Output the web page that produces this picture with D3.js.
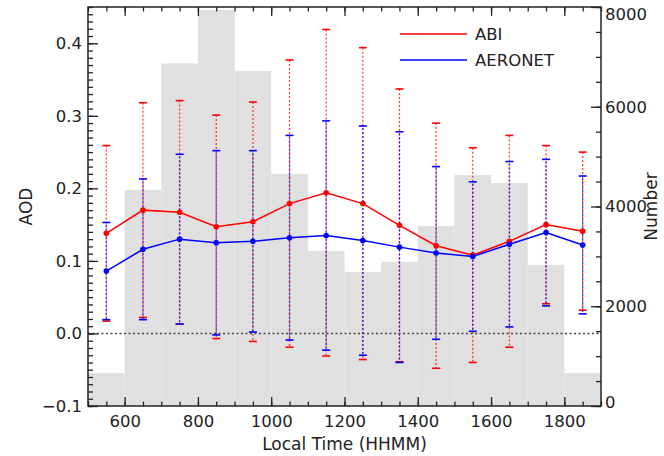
<!DOCTYPE html>
<html>
<head>
<meta charset="utf-8">
<script src="https://cdn.jsdelivr.net/npm/d3@7"></script>
<style>
  html, body { margin: 0; padding: 0; background: #fff; }
  svg text { font-family: "DejaVu Sans", sans-serif; fill: #222; }
</style>
</head>
<body>
<svg id="chart" width="664" height="456"></svg>
<script>
// Hourly bins (local time, HHMM) and their centres
const binStarts = [500, 600, 700, 800, 900, 1000, 1100, 1200, 1300, 1400, 1500, 1600, 1700, 1800];
const binCounts = [660, 4330, 6870, 7940, 6720, 4650, 3110, 2690, 2890, 3610, 4630, 4470, 2830, 660];
const times = [550, 650, 750, 850, 950, 1050, 1150, 1250, 1350, 1450, 1550, 1650, 1750, 1850];

// Mean AOD and standard deviation per bin
const abiMean = [0.138, 0.170, 0.167, 0.147, 0.154, 0.179, 0.194, 0.179, 0.149, 0.121, 0.108, 0.127, 0.150, 0.141];
const abiStd  = [0.121, 0.148, 0.154, 0.154, 0.165, 0.198, 0.225, 0.215, 0.188, 0.169, 0.148, 0.146, 0.109, 0.109];
const aerMean = [0.086, 0.116, 0.130, 0.125, 0.127, 0.132, 0.135, 0.128, 0.119, 0.111, 0.106, 0.123, 0.139, 0.122];
const aerStd  = [0.067, 0.097, 0.117, 0.127, 0.125, 0.141, 0.158, 0.158, 0.159, 0.119, 0.103, 0.114, 0.101, 0.095];

// Axis ticks
const xTicks = [600, 800, 1000, 1200, 1400, 1600, 1800];
const yTicks = [-0.1, 0.0, 0.1, 0.2, 0.3, 0.4];
const nTicks = [0, 2000, 4000, 6000, 8000];
const legendNames = ["ABI", "AERONET"];
const colors = ["#ff0000", "#0000ff"];

const L = 88, R = 601, T = 7, B = 406;
const svg = d3.select("#chart");

const x = d3.scaleLinear().domain([500, 1900]).range([L, R]);
const y = d3.scaleLinear().domain([-0.1, 0.45]).range([B, T]);
const yN = d3.scaleLinear().domain([0, 8000]).range([B, T]);

// Count histogram in the background
svg.append("g").selectAll("rect")
  .data(binStarts.map((s, i) => ({ s, c: binCounts[i] })))
  .join("rect")
  .attr("x", d => x(d.s))
  .attr("width", d => x(d.s + 100) - x(d.s))
  .attr("y", d => yN(d.c))
  .attr("height", d => yN(0) - yN(d.c))
  .attr("fill", "#e0e0e0");

// Zero reference line
svg.append("line")
  .attr("x1", L).attr("x2", R)
  .attr("y1", y(0)).attr("y2", y(0))
  .attr("stroke", "#444").attr("stroke-width", 1.5)
  .attr("stroke-dasharray", "2,2.5");

const series = [
  { mean: abiMean, std: abiStd, color: colors[0], offset: 0 },
  { mean: aerMean, std: aerStd, color: colors[1], offset: 2 }
];

// Error bars (mean ± std) with caps
series.forEach(s => {
  const g = svg.append("g");
  times.forEach((t, i) => {
    const hi = s.mean[i] + s.std[i], lo = s.mean[i] - s.std[i];
    g.append("line")
      .attr("x1", x(t)).attr("x2", x(t))
      .attr("y1", y(hi)).attr("y2", y(lo))
      .attr("stroke", s.color).attr("stroke-width", 1.3)
      .attr("stroke-opacity", 0.75)
      .attr("stroke-dasharray", "2,2")
      .attr("stroke-dashoffset", s.offset);
    [hi, lo].forEach(v => {
      g.append("line")
        .attr("x1", x(t) - 4).attr("x2", x(t) + 4)
        .attr("y1", y(v)).attr("y2", y(v))
        .attr("stroke", s.color).attr("stroke-width", 1.6);
    });
  });
});

// Mean lines with markers
series.forEach(s => {
  const pts = times.map((t, i) => [t, s.mean[i]]);
  svg.append("path")
    .datum(pts)
    .attr("fill", "none")
    .attr("stroke", s.color)
    .attr("stroke-width", 1.5)
    .attr("d", d3.line().x(d => x(d[0])).y(d => y(d[1])));
  svg.append("g").selectAll("circle")
    .data(pts).join("circle")
    .attr("cx", d => x(d[0])).attr("cy", d => y(d[1]))
    .attr("r", 2.8).attr("fill", s.color);
});

// Axes: inward ticks, major and minor
function styleAxis(g) {
  g.select(".domain").remove();
  g.selectAll("line").attr("stroke", "#222").attr("stroke-width", 1.3);
  g.selectAll("text").attr("font-size", 16.5).attr("fill", "#222")
    .style("font-family", "DejaVu Sans, sans-serif");
}

const minorX = d3.range(500, 1901, 50);
const minorY = d3.range(-0.1, 0.4501, 0.01);
const minorN = d3.range(0, 8001, 500);

svg.append("g").attr("transform", `translate(0,${B})`)
  .call(d3.axisBottom(x).tickValues(minorX).tickSize(-4.5).tickFormat(""))
  .call(styleAxis);
svg.append("g").attr("transform", `translate(0,${B})`)
  .call(d3.axisBottom(x).tickValues(xTicks).tickSize(-9).tickPadding(9).tickFormat(d3.format("d")))
  .call(styleAxis);
svg.append("g").attr("transform", `translate(0,${T})`)
  .call(d3.axisTop(x).tickValues(minorX).tickSize(-4.5).tickFormat(""))
  .call(styleAxis);
svg.append("g").attr("transform", `translate(0,${T})`)
  .call(d3.axisTop(x).tickValues(xTicks).tickSize(-9).tickFormat(""))
  .call(styleAxis);

svg.append("g").attr("transform", `translate(${L},0)`)
  .call(d3.axisLeft(y).tickValues(minorY).tickSize(-5).tickFormat(""))
  .call(styleAxis);
svg.append("g").attr("transform", `translate(${L},0)`)
  .call(d3.axisLeft(y).tickValues(yTicks).tickSize(-10).tickPadding(6).tickFormat(d3.format(".1f")))
  .call(styleAxis);

svg.append("g").attr("transform", `translate(${R},0)`)
  .call(d3.axisRight(yN).tickValues(minorN).tickSize(-5).tickFormat(""))
  .call(styleAxis);
const rightAxis = svg.append("g").attr("transform", `translate(${R},0)`)
  .call(d3.axisRight(yN).tickValues(nTicks).tickSize(-10).tickPadding(4).tickFormat(d3.format("d")))
  .call(styleAxis);
// keep the end labels inside the frame height
rightAxis.selectAll(".tick text")
  .attr("dy", d => d === 8000 ? "0.75em" : d === 0 ? "0.1em" : "0.32em");

// Frame
svg.append("rect")
  .attr("x", L).attr("y", T)
  .attr("width", R - L).attr("height", B - T)
  .attr("fill", "none").attr("stroke", "#222").attr("stroke-width", 1.5);

// Axis titles
svg.append("text")
  .attr("x", (L + R) / 2).attr("y", 450)
  .attr("text-anchor", "middle").attr("font-size", 17)
  .text("Local Time (HHMM)");
svg.append("text")
  .attr("transform", `translate(32,${(T + B) / 2}) rotate(-90)`)
  .attr("text-anchor", "middle").attr("font-size", 17)
  .text("AOD");
svg.append("text")
  .attr("transform", `translate(657,${(T + B) / 2}) rotate(-90)`)
  .attr("text-anchor", "middle").attr("font-size", 17)
  .text("Number");

// Legend
const legend = svg.append("g");
legendNames.forEach((name, i) => {
  const ly = 34 + i * 26;
  legend.append("line")
    .attr("x1", 400).attr("x2", 467)
    .attr("y1", ly).attr("y2", ly)
    .attr("stroke", colors[i]).attr("stroke-width", 1.5);
  legend.append("text")
    .attr("x", 475).attr("y", ly).attr("dy", "0.35em")
    .attr("font-size", 16.5)
    .text(name);
});
</script>
</body>
</html>
